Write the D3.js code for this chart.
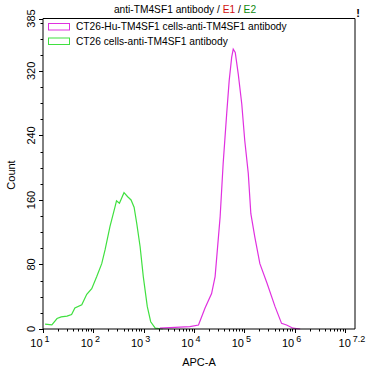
<!DOCTYPE html>
<html><head><meta charset="utf-8">
<script src="https://cdn.jsdelivr.net/npm/d3@7"></script>
<style>
body{margin:0;background:#fff;}
text{font-family:"Liberation Sans",Arial,sans-serif;}
</style></head>
<body><svg id="c" width="369" height="372"></svg>
<script>
// APC-A values and counts
const greenX = [11,15,19,23,30,37,43,59,74,93,117,147,171,214,269,289,330,407,482,562,646,729,851,984,1180,1380,1700,2400];
const greenY = [6,5,13,15,16,18,26,30,43,50,65,81,98,127,151,159,156,169,164,160,151,131,102,65,28,9,1,0];
const magX = [2100,4200,8300,12300,16600,22400,26300,33100,38000,44700,50100,56200,60300,66100,75900,89100,102000,120000,135000,162000,204000,282000,407000,550000,692000,933000,1290000];
const magY = [1,2,3,5,26,44,65,139,205,267,308,337,347,343,316,279,234,193,143,114,81,57,28,7,5,1,0];
const seriesNames = ["CT26-Hu-TM4SF1 cells-anti-TM4SF1 antibody","CT26 cells-anti-TM4SF1 antibody"];
const seriesColors = ["#e030e0","#40e040"];
const xTickExps = ["1","2","3","4","5","6","7.2"];
const yTicks = [0,80,160,240,320,385];

const svg = d3.select("#c");
const L=43, R=355, T=18.5, B=329;
const x = d3.scaleLog().domain([10, Math.pow(10,7.2)]).range([L,R]);
const y = d3.scaleLinear().domain([0,385]).range([B,T]);

// title
const title = svg.append("text").attr("x",185).attr("y",13).attr("text-anchor","middle").attr("font-size",10.2).attr("fill","#000");
title.append("tspan").text("anti-TM4SF1 antibody / ");
title.append("tspan").attr("fill","#d01010").text("E1");
title.append("tspan").text(" / ");
title.append("tspan").attr("fill","#108a10").text("E2");
svg.append("text").attr("x",358).attr("y",17).attr("text-anchor","middle").attr("font-size",11).attr("font-weight","bold").text("!");

// curves
const line = d3.line().x(d=>x(d[0])).y(d=>y(d[1])).curve(d3.curveLinear);
svg.append("path").datum(greenX.map((v,i)=>[v,greenY[i]])).attr("d",line).attr("fill","none").attr("stroke",seriesColors[1]).attr("stroke-width",1.2);
svg.append("path").datum(magX.map((v,i)=>[v,magY[i]])).attr("d",line).attr("fill","none").attr("stroke",seriesColors[0]).attr("stroke-width",1.2);

// frame
svg.append("path").attr("d",`M${L},${T}H${R}V${B}`).attr("fill","none").attr("stroke","#000").attr("stroke-width",1);

// y axis
const gy = svg.append("g").attr("transform",`translate(${L},0)`);
gy.append("line").attr("x1",0).attr("x2",0).attr("y1",T).attr("y2",B).attr("stroke","#000");
d3.range(0,385,20).concat([385]).forEach(v=>{
  const major = yTicks.includes(v);
  gy.append("line").attr("x1",0).attr("x2",major?-4:-2.5).attr("y1",Math.round(y(v))+0.5).attr("y2",Math.round(y(v))+0.5).attr("stroke","#000");
});
yTicks.forEach(v=>{
  gy.append("text").attr("transform",`translate(-8,${y(v)}) rotate(-90)`).attr("text-anchor","middle").attr("font-size",11).text(v);
});
svg.append("text").attr("transform",`translate(15,175) rotate(-90)`).attr("text-anchor","middle").attr("font-size",11).text("Count");

// x axis
const gx = svg.append("g").attr("transform",`translate(0,${B})`);
gx.append("line").attr("x1",L).attr("x2",R).attr("y1",0).attr("y2",0).attr("stroke","#000");
for(let e=1;e<=7;e++){
  for(let m=1;m<=9;m++){
    const v = m*Math.pow(10,e);
    if(v>Math.pow(10,7.2)) continue;
    const xx = Math.round(x(v))+0.5;
    gx.append("line").attr("x1",xx).attr("x2",xx).attr("y1",0).attr("y2",m===1?4:2.5).attr("stroke","#000");
  }
}
xTickExps.forEach(ex=>{
  const xx = x(Math.pow(10,+ex));
  const t = gx.append("text").attr("x",xx-3).attr("y",18).attr("text-anchor","middle").attr("font-size",11);
  t.append("tspan").text("10");
  t.append("tspan").attr("dx",2).attr("dy",-5).attr("font-size",9).text(ex);
});
svg.append("text").attr("x",199).attr("y",366).attr("text-anchor","middle").attr("font-size",11).text("APC-A");

// legend
seriesNames.forEach((n,i)=>{
  const yy = 23 + i*14.5;
  svg.append("rect").attr("x",48.5).attr("y",yy+0.5).attr("width",21).attr("height",6.5).attr("fill","none").attr("stroke",seriesColors[i]).attr("stroke-width",1);
  svg.append("text").attr("x",76).attr("y",yy+7).attr("font-size",10.2).text(n);
});
</script></body></html>
